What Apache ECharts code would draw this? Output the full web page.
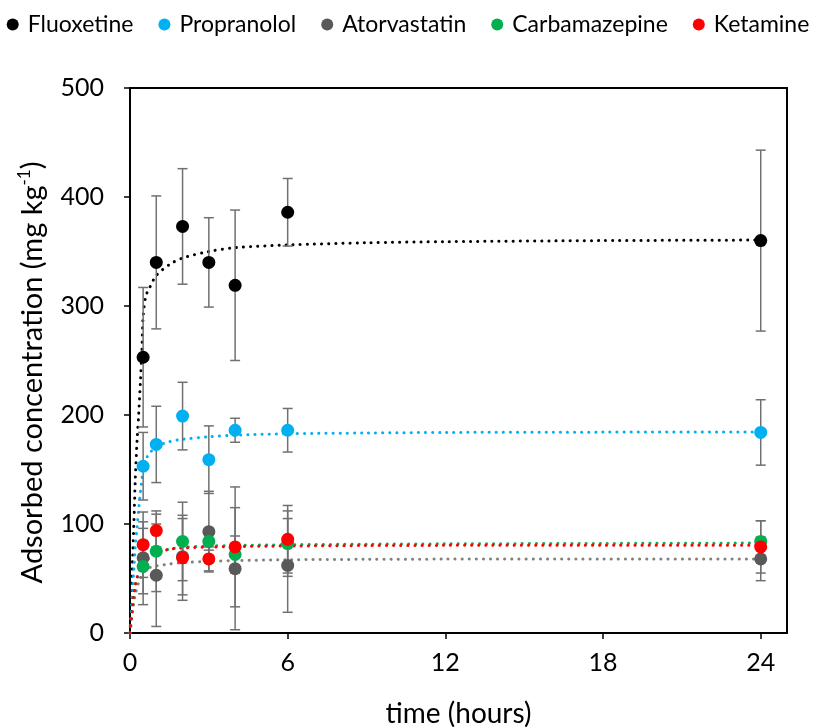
<!DOCTYPE html>
<html>
<head>
<meta charset="utf-8">
<script src="https://cdn.jsdelivr.net/npm/echarts@6/dist/echarts.min.js"></script>
<style>
    html, body { margin: 0; padding: 0; background: #fff; }
    #chart { width: 816px; height: 727px; }
</style>
</head>
<body>
<div id="chart"></div>
<script>
// measured points
const hours = [0.5, 1, 2, 3, 4, 6, 24];
const fluoxetine = [253, 340, 373, 340, 319, 386, 360];
const fluoxetineErr = [64, 61, 53, 41, 69, 31, 83];
const propranolol = [153, 173, 199, 159, 186, 186, 184];
const propranololErr = [31, 35, 31, 31, 11, 20, 30];
const atorvastatin = [69, 53, 70, 93, 59, 62, 68];
const atorvastatinErr = [33, 47, 35, 37, 56, 43, 20];
const carbamazepine = [61, 75, 84, 84, 72, 82, 84];
const carbamazepineErr = [35, 37, 36, 8, 17, 30, 19];
const ketamine = [81, 94, 69, 68, 79, 86, 79];
const ketamineErr = [30, 15, 39, 11, 55, 31, 24];

// fitted curves
const fitHours = [0, 0.05, 0.1, 0.15, 0.2, 0.27, 0.33, 0.4, 0.45, 0.5, 0.6, 0.75, 1, 1.5, 2, 3, 4, 6, 9, 12, 18, 24];
const fluoxetineFit = [0, 37, 68, 102, 140, 177, 200, 232, 258, 290, 309, 317, 328, 338, 344, 350, 353.5, 356, 358, 359, 360, 360.5];
const propranololFit = [0, 21, 40, 59, 79, 97, 113, 130, 140, 150, 159, 165, 171, 175.5, 177.7, 180, 181.5, 182.8, 183.5, 184, 184.3, 184.5];
const atorvastatinFit = [0, 10, 20, 28, 35, 42, 46, 50, 53, 55, 58, 60, 61.5, 63.3, 64.5, 65.8, 66.4, 67.2, 67.6, 67.8, 68, 68];
const carbamazepineFit = [0, 12, 23, 34, 42, 50, 55, 59, 61, 63, 66, 69, 73, 77, 78.5, 79.8, 80.3, 81, 81.5, 81.8, 82.2, 82.5];
const ketamineFit = [0, 13, 25, 36, 44, 51, 56, 60, 62.5, 64.5, 67.5, 70.5, 73.5, 76.8, 78, 78.8, 79.3, 79.8, 80.2, 80.4, 80.5, 80.6];

const xTicks = [0, 6, 12, 18, 24];

const FONT = 'Lato';

const drugs = [
    { name: 'Fluoxetine', values: fluoxetine, err: fluoxetineErr, fit: fluoxetineFit, color: '#000000', fitColor: '#000000' },
    { name: 'Propranolol', values: propranolol, err: propranololErr, fit: propranololFit, color: '#00B0F0', fitColor: '#00B0F0' },
    { name: 'Atorvastatin', values: atorvastatin, err: atorvastatinErr, fit: atorvastatinFit, color: '#595959', fitColor: '#808080' },
    { name: 'Carbamazepine', values: carbamazepine, err: carbamazepineErr, fit: carbamazepineFit, color: '#00B050', fitColor: '#00B050' },
    { name: 'Ketamine', values: ketamine, err: ketamineErr, fit: ketamineFit, color: '#FF0000', fitColor: '#FF0000' },
];

const renderErrorBar = (params, api) => {
    const x = api.value(0);
    const top = api.coord([x, api.value(2)]);
    const bottom = api.coord([x, api.value(1)]);
    const hw = 5;
    const style = { stroke: '#707070', lineWidth: 1.5, fill: null };
    return {
        type: 'group',
        children: [
            { type: 'line', shape: { x1: top[0], y1: top[1], x2: bottom[0], y2: bottom[1] }, style },
            { type: 'line', shape: { x1: top[0] - hw, y1: top[1], x2: top[0] + hw, y2: top[1] }, style },
            { type: 'line', shape: { x1: bottom[0] - hw, y1: bottom[1], x2: bottom[0] + hw, y2: bottom[1] }, style },
        ],
    };
};

const series = [];

drugs.forEach((d) => {
    series.push({
        type: 'line',
        name: d.name + ' fit',
        data: fitHours.map((t, i) => [t, d.fit[i]]),
        showSymbol: false,
        smooth: 0.3,
        silent: true,
        z: 1,
        lineStyle: { color: d.fitColor, width: 3, type: [0.1, 7], cap: 'round' },
    });
});

drugs.forEach((d) => {
    series.push({
        type: 'custom',
        name: d.name + ' err',
        renderItem: renderErrorBar,
        data: hours.map((t, i) => [t, d.values[i] - d.err[i], d.values[i] + d.err[i]]),
        z: 2,
        silent: true,
    });
});

drugs.forEach((d, k) => {
    series.push({
        type: 'scatter',
        name: d.name,
        data: hours.map((t, i) => [t, d.values[i]]),
        symbol: 'circle',
        symbolSize: 13,
        itemStyle: { color: d.color, opacity: 1 },
        z: 3 + k,
    });
});

const chart = echarts.init(document.getElementById('chart'));

chart.setOption({
    animation: false,
    backgroundColor: '#ffffff',
    legend: {
        data: drugs.map((d) => ({ name: d.name, itemStyle: { color: d.color } })),
        top: 8,
        left: 'center',
        icon: 'circle',
        itemWidth: 12,
        itemHeight: 12,
        itemGap: 25,
        textStyle: { fontFamily: FONT, fontSize: 23, color: '#000', padding: [0, 0, 0, 4] },
    },
    grid: {
        left: 130,
        right: 29,
        top: 88,
        bottom: 94,
        outerBoundsMode: 'none',
        containLabel: false,
        show: true,
        borderColor: '#000',
        borderWidth: 2,
        backgroundColor: 'transparent',
    },
    xAxis: {
        type: 'value',
        min: 0,
        max: 25,
        interval: 6,
        name: 'time (hours)',
        nameLocation: 'middle',
        nameGap: 67,
        nameTextStyle: { fontFamily: FONT, fontSize: 28, color: '#000' },
        axisLine: { lineStyle: { color: '#000', width: 2 } },
        axisTick: { customValues: xTicks, length: 6, lineStyle: { color: '#000', width: 1.5 } },
        axisLabel: { customValues: xTicks, fontFamily: FONT, fontSize: 25, color: '#000', margin: 17 },
        splitLine: { show: false },
    },
    yAxis: {
        type: 'value',
        min: 0,
        max: 500,
        interval: 100,
        name: '{a|Adsorbed concentration (mg kg}{s|-1}{a|)}',
        nameLocation: 'middle',
        nameGap: 80,
        nameTextStyle: {
            padding: [0, 24, 0, 0],
            rich: {
                a: { fontFamily: FONT, fontSize: 29, color: '#000', lineHeight: 34 },
                s: { fontFamily: FONT, fontSize: 17, color: '#000', lineHeight: 34, verticalAlign: 'top', padding: [0, 0, 12, 0] },
            },
        },
        axisLine: { lineStyle: { color: '#000', width: 2 } },
        axisTick: { length: 6, lineStyle: { color: '#000', width: 1.5 } },
        axisLabel: { fontFamily: FONT, fontSize: 25, color: '#000', margin: 26 },
        splitLine: { show: false },
    },
    series,
});
</script>
</body>
</html>
